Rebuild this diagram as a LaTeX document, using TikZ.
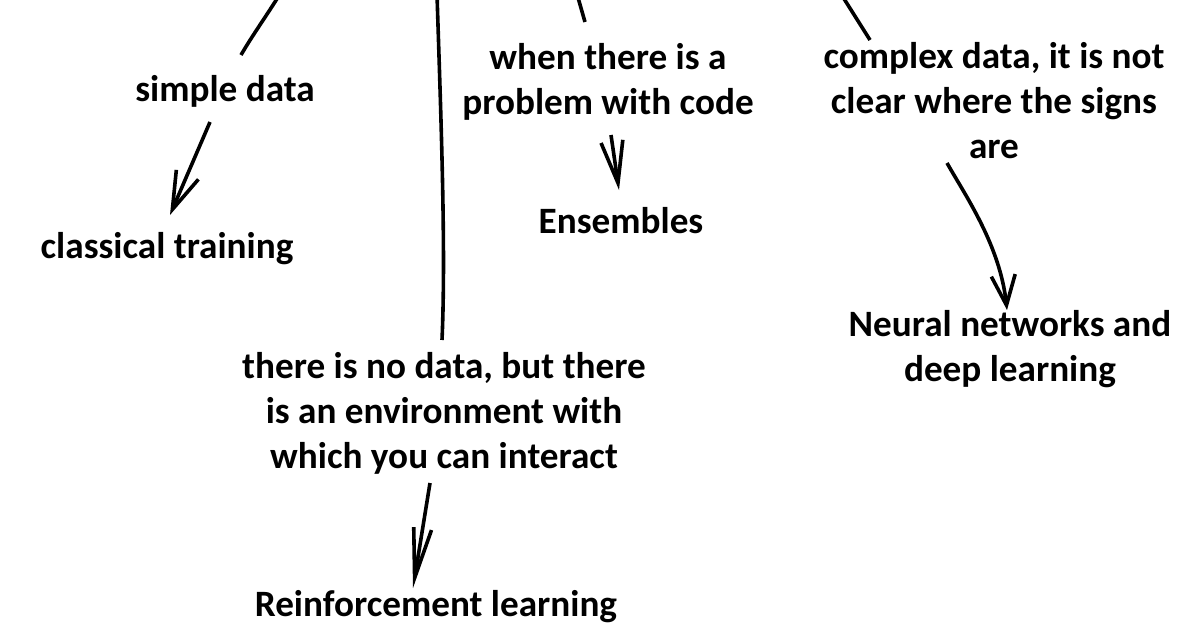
\documentclass[tikz,border=0pt]{standalone}
\usepackage{fontspec}
\setmainfont{Carlito}
\usetikzlibrary{arrows.meta,calc}
\tikzset{
  lbl/.style={font=\bfseries\fontsize{37.2}{45}\selectfont, align=center, inner sep=0pt, anchor=base, text=black},
  stroke/.style={line width=3.6pt, draw=black},
  arr/.style={stroke, -{Straight Barb[length=#1]}},
  arr/.default={38pt,width=24pt}
}
\begin{document}
\begin{tikzpicture}[x=1pt,y=-1pt]
\useasboundingbox (0,0) rectangle (1200,634);
\fill[white] (0,0) rectangle (1200,634);
\clip (0,0) rectangle (1200,634);

% text nodes (anchor base = baseline of the last line)
\node[lbl] (simple) at (225,101) {simple data};
\node[lbl] (classical) at (167,258) {classical training};
\node[lbl] (when) at (608,114) {when there is a\\problem with code};
\node[lbl] (ens) at (621,233) {Ensembles};
\node[lbl] (complex) at (994,158) {complex data, it is not\\clear where the signs\\are};
\node[lbl] (neural) at (1010,381) {Neural networks and\\deep learning};
\node[lbl] (nodata) at (444,468) {there is no data, but there\\is an environment with\\which you can interact};
\node[lbl] (rl) at (436,616) {Reinforcement learning};

% free ends at the top
\coordinate (t1) at (280,-6);
\coordinate (t2) at (437,-6);
\coordinate (t3) at (577,-6);
\coordinate (t4) at (841,-6);

% lines from the top
\draw[stroke] (t1) .. controls (265,18) and (252,36) .. ($(simple.base)+(16,-46)$);
\draw[stroke] (t2) .. controls (441,120) and (446,250) .. ($(nodata.base)+(-2,-128)$);
\draw[stroke] (t3) -- ($(when.base)+(-23,-92)$);
\draw[stroke] (t4) -- ($(complex.base)+(-124,-118)$);

% arrows
\draw[arr={38pt,width=24pt}] ($(simple.base)+(-15,21)$) -- ($(classical.base)+(3,-43)$);
\draw[arr={42pt,width=22pt}] ($(when.base)+(3,21)$) -- ($(ens.base)+(-2,-43)$);
\draw[arr={30pt,width=24pt}] ($(complex.base)+(-47,5)$) .. controls (965,195) and (1000,245) .. ($(neural.base)+(-3,-71)$);
\draw[arr={50pt,width=18pt}] ($(nodata.base)+(-14,15)$) -- ($(rl.base)+(-23,-28)$);
\end{tikzpicture}
\end{document}
